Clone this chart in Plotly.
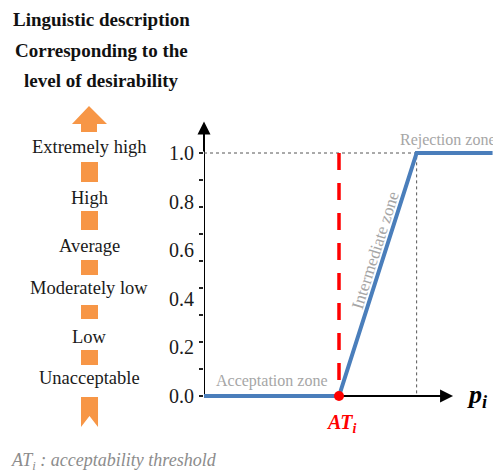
import plotly.graph_objects as go

# ---------------- data ----------------
P_BREAKS = [0.0, 4.0, 6.3, 8.55]      # p_i values of the piecewise function
Z_VALUES = [0.0, 0.0, 1.0, 1.0]       # z_i values
AT = 4.0                              # acceptability threshold
P_PEAK = 6.3                          # start of rejection zone
Y_TICKS = [0.0, 0.2, 0.4, 0.6, 0.8, 1.0]
Y_TICK_LABELS = ["0.0", "0.2", "0.4", "0.6", "0.8", "1.0"]
LEVELS = ["Extremely high", "High", "Average", "Moderately low", "Low", "Unacceptable"]
TITLE_LINES = ["Linguistic description", "Corresponding to the", "level of desirability"]

# ---------------- layout constants ----------------
OFF = 8                       # page body margin of the browser
W, H = 501 - OFF, 474 - OFF
X0_PX = 204                   # page pixel of p=0
PX_PER_X = 33.75
Y0_PX = 396                   # page pixel of z=0
PX_PER_Y = 243.0
SERIF = "Liberation Serif, Times New Roman, serif"
BLUE = "#4A7EBB"
ORANGE = "#F79646"
GREY_TXT = "#A6A6A6"

def px(x):  # page pixel -> paper x
    return (x - OFF) / W

def py(y):  # page pixel -> paper y
    return 1 - (y - OFF) / H

def path(points):
    return "M " + " L ".join(f"{px(a):.4f},{py(b):.4f}" for a, b in points) + " Z"

x_max = (501 - X0_PX) / PX_PER_X
y_min = -(474 - Y0_PX) / PX_PER_Y
y_max = (Y0_PX - OFF) / PX_PER_Y

fig = go.Figure()

# dotted guide lines at the rejection point
fig.add_trace(go.Scatter(x=[0, P_PEAK, P_PEAK], y=[Z_VALUES[-1], Z_VALUES[-1], 0],
                         mode="lines", line=dict(color="#555555", width=1, dash="dot"),
                         hoverinfo="skip", showlegend=False))
# membership function
fig.add_trace(go.Scatter(x=P_BREAKS, y=Z_VALUES, mode="lines",
                         line=dict(color=BLUE, width=4), showlegend=False))
# acceptability threshold
fig.add_trace(go.Scatter(x=[AT, AT], y=[1, 0], mode="lines",
                         line=dict(color="#FF0000", width=3.5, dash="17px,13px"),
                         showlegend=False))
fig.add_trace(go.Scatter(x=[AT], y=[0], mode="markers",
                         marker=dict(color="#FF0000", size=10), showlegend=False))

shapes = []
# axis lines (below traces); arrowheads added as annotations
shapes.append(dict(type="line", xref="x", yref="y", x0=0, y0=0, x1=7.1, y1=0,
                   line=dict(color="black", width=2), layer="below"))
shapes.append(dict(type="line", xref="x", yref="y", x0=0, y0=0, x1=0, y1=1.05,
                   line=dict(color="black", width=2), layer="below"))

# orange arrow column
shapes.append(dict(type="path", xref="paper", yref="paper", fillcolor=ORANGE, line=dict(width=0),
                   path=path([(89, 106), (107, 124), (97, 124), (97, 132), (81, 132), (81, 124), (72, 124)])))
for top, bot in [(162, 182), (211, 230), (260, 275), (305, 319), (350, 365)]:
    shapes.append(dict(type="rect", xref="paper", yref="paper", fillcolor=ORANGE, line=dict(width=0),
                       x0=px(81), x1=px(98), y0=py(bot), y1=py(top)))
shapes.append(dict(type="path", xref="paper", yref="paper", fillcolor=ORANGE, line=dict(width=0),
                   path=path([(81, 397), (98, 397), (98, 427), (89.5, 416), (81, 427)])))

ann = []
# axis arrowheads
ann.append(dict(x=7.38, y=0, ax=6.9, ay=0, xref="x", yref="y", axref="x", ayref="y",
                text="", showarrow=True, arrowhead=2, arrowsize=1.3, arrowwidth=2, arrowcolor="black"))
ann.append(dict(x=0, y=1.13, ax=0, ay=1.0, xref="x", yref="y", axref="x", ayref="y",
                text="", showarrow=True, arrowhead=2, arrowsize=1.3, arrowwidth=2, arrowcolor="black"))

# axis titles
ann.append(dict(x=-0.05, y=1.19, xref="x", yref="y", text="<b>z<sub><i>i</i></sub></b>",
                showarrow=False, font=dict(family=SERIF, size=24, color="black")))
ann.append(dict(x=8.1, y=0.0, xref="x", yref="y", text="<b><i>p<sub>i</sub></i></b>",
                showarrow=False, font=dict(family=SERIF, size=26, color="black")))
ann.append(dict(x=AT + 0.05, y=-0.115, xref="x", yref="y", text="<b><i>AT<sub>i</sub></i></b>",
                showarrow=False, font=dict(family=SERIF, size=20, color="#FF0000")))

# zone labels
ann.append(dict(x=2.01, y=0.06, xref="x", yref="y", text="Acceptation zone", showarrow=False,
                font=dict(family=SERIF, size=16, color=GREY_TXT)))
ann.append(dict(x=7.23, y=1.055, xref="x", yref="y", text="Rejection zone", showarrow=False,
                font=dict(family=SERIF, size=16, color=GREY_TXT)))
ann.append(dict(x=5.07, y=0.60, xref="x", yref="y", text="Intermediate zone", showarrow=False,
                textangle=-72.4, font=dict(family=SERIF, size=17, color=GREY_TXT)))

# left title
for i, line in enumerate(TITLE_LINES):
    ann.append(dict(x=px(101), y=py(20 + 30 * i), xref="paper", yref="paper", text=f"<b>{line}</b>",
                    showarrow=False, xanchor="center", yanchor="middle",
                    font=dict(family=SERIF, size=19, color="#111111")))
# level labels
for lab, ypx in zip(LEVELS, [147, 198, 246, 288, 337, 378]):
    ann.append(dict(x=px(89), y=py(ypx), xref="paper", yref="paper", text=lab, showarrow=False,
                    xanchor="center", yanchor="middle",
                    font=dict(family=SERIF, size=18.5, color="#1a1a1a")))
# footnote
ann.append(dict(x=px(9), y=py(461), xref="paper", yref="paper",
                text="<i>AT<sub>i</sub> : acceptability threshold</i>", showarrow=False,
                xanchor="left", yanchor="middle", font=dict(family=SERIF, size=18, color="#8C8C8C")))

fig.update_layout(
    width=W, height=H, margin=dict(l=0, r=0, t=0, b=0),
    paper_bgcolor="white", plot_bgcolor="white",
    showlegend=False, shapes=shapes, annotations=ann,
    xaxis=dict(domain=[px(X0_PX), 1], range=[0, x_max], visible=False, fixedrange=True),
    yaxis=dict(domain=[0, 1], range=[y_min, y_max], showgrid=False, zeroline=False, showline=False,
               tickmode="array", tickvals=Y_TICKS, ticktext=Y_TICK_LABELS, ticks="",
               ticklabelstandoff=9,
               tickfont=dict(family=SERIF, size=20, color="#1a1a1a"),
               minor=dict(tickmode="array", tickvals=[k / 9 for k in range(10)],
                          ticks="outside", ticklen=4, tickwidth=1.5, tickcolor="#222222"),
               fixedrange=True),
)

fig.write_html("out.html")
